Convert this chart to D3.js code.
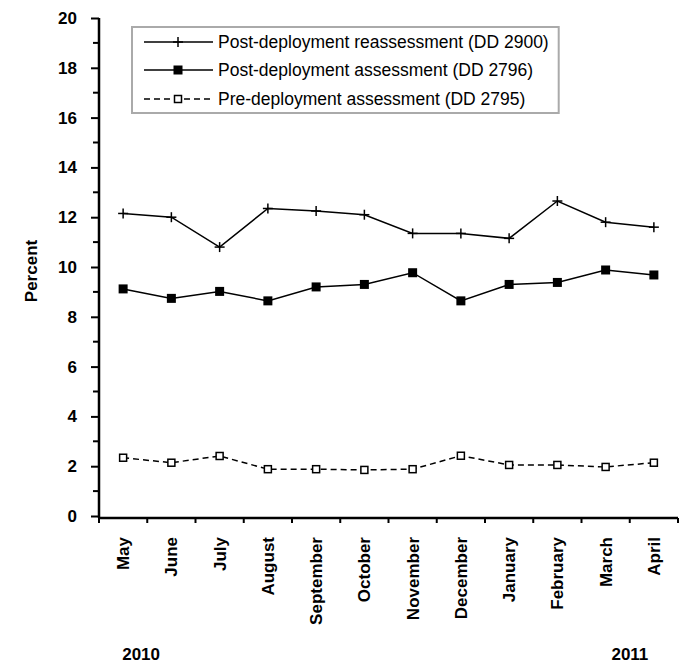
<!DOCTYPE html>
<html>
<head>
<meta charset="utf-8">
<script src="https://cdn.jsdelivr.net/npm/d3@7"></script>
<style>
body{margin:0;background:#fff;}
svg{display:block;font-family:"Liberation Sans",Arial,sans-serif;}
</style>
</head>
<body>
<script>
// data
const months=["May","June","July","August","September","October","November","December","January","February","March","April"];
const reassess=[12.15,12.0,10.8,12.35,12.25,12.1,11.35,11.35,11.15,12.65,11.8,11.6];
const assess=[9.12,8.74,9.02,8.64,9.2,9.3,9.77,8.64,9.3,9.38,9.88,9.68];
const predeploy=[2.34,2.14,2.41,1.88,1.88,1.85,1.88,2.42,2.05,2.05,1.97,2.14];
const seriesNames=["Post-deployment reassessment (DD 2900)","Post-deployment assessment (DD 2796)","Pre-deployment assessment (DD 2795)"];
const yearLabels=["2010","2011"];

//constants
const w=686;
const h=665;
const plotL=99,plotR=678,plotT=18,plotB=516;

const svg=d3.select("body")
            .append("svg")
            .attr("width",w)
            .attr("height",h)

const x=d3.scaleBand().domain(months).range([plotL,plotR]).padding(0)
const y=d3.scaleLinear().domain([0,20]).range([plotB,plotT])

// y axis
const yAxis=d3.axisLeft(y).tickValues(d3.range(0,21,2)).tickSize(8).tickPadding(14).tickFormat(d3.format("d"))
const gy=svg.append("g").attr("transform","translate("+plotL+",0)").call(yAxis)
gy.select(".domain").remove()
gy.selectAll("text").attr("font-size",17).attr("font-weight","bold").attr("font-family","Liberation Sans, Arial")
gy.selectAll(".tick line").attr("stroke","#000").attr("stroke-width",2)
// minor ticks
svg.append("g").selectAll("line")
   .data(d3.range(1,20,2))
   .enter()
   .append("line")
   .attr("x1",plotL-6).attr("x2",plotL)
   .attr("y1",d=>y(d)).attr("y2",d=>y(d))
   .attr("stroke","#000").attr("stroke-width",2)

// x axis ticks on band edges
svg.append("g").selectAll("line")
   .data(months.concat(["end"]))
   .enter()
   .append("line")
   .attr("x1",(d,i)=>plotL+i*x.bandwidth()).attr("x2",(d,i)=>plotL+i*x.bandwidth())
   .attr("y1",plotB+2).attr("y2",plotB+7)
   .attr("stroke","#000").attr("stroke-width",2)

// axis lines
svg.append("line").attr("x1",plotL).attr("x2",plotL).attr("y1",plotT).attr("y2",plotB+2).attr("stroke","#000").attr("stroke-width",2.5)
svg.append("line").attr("x1",plotL-1).attr("x2",plotR).attr("y1",plotB+2).attr("y2",plotB+2).attr("stroke","#000").attr("stroke-width",2.5)

// month labels
svg.append("g").selectAll("text")
   .data(months)
   .enter()
   .append("text")
   .attr("transform",d=>"translate("+(x(d)+x.bandwidth()/2)+",537) rotate(-90)")
   .attr("text-anchor","end")
   .attr("dy","0.35em")
   .attr("font-size",17)
   .attr("font-weight","bold")
   .text(d=>d)

// y label
svg.append("text")
   .attr("transform","translate(31,271) rotate(-90)")
   .attr("text-anchor","middle")
   .attr("dy","0.35em")
   .attr("font-size",17)
   .attr("font-weight","bold")
   .text("Percent")

// years
svg.append("text").attr("x",x(months[0])+x.bandwidth()/2+18).attr("y",660).attr("text-anchor","middle")
   .attr("font-size",17).attr("font-weight","bold").text(yearLabels[0])
svg.append("text").attr("x",x(months[11])+x.bandwidth()/2-24).attr("y",660).attr("text-anchor","middle")
   .attr("font-size",17).attr("font-weight","bold").text(yearLabels[1])

// lines
const line=d3.line().x((d,i)=>x(months[i])+x.bandwidth()/2).y(d=>y(d))
const styles=[
  {data:reassess,dash:null,marker:"cross"},
  {data:assess,dash:null,marker:"filled"},
  {data:predeploy,dash:"6,4",marker:"open"}
]

function drawMarker(g,kind){
  if(kind==="cross"){
    g.append("line").attr("x1",-5).attr("x2",5).attr("y1",0).attr("y2",0).attr("stroke","#000").attr("stroke-width",1.5)
    g.append("line").attr("x1",0).attr("x2",0).attr("y1",-5).attr("y2",5).attr("stroke","#000").attr("stroke-width",1.5)
  }else if(kind==="filled"){
    g.append("rect").attr("x",-4.5).attr("y",-4.5).attr("width",9).attr("height",9).attr("fill","#000")
  }else{
    g.append("rect").attr("x",-3.5).attr("y",-3.5).attr("width",7).attr("height",7).attr("fill","#fff").attr("stroke","#000").attr("stroke-width",1.5)
  }
}

styles.forEach(s=>{
  svg.append("path")
     .attr("d",line(s.data))
     .attr("fill","none")
     .attr("stroke","#000")
     .attr("stroke-width",1.5)
     .attr("stroke-dasharray",s.dash)
  svg.append("g").selectAll("g")
     .data(s.data)
     .enter()
     .append("g")
     .attr("transform",(d,i)=>"translate("+(x(months[i])+x.bandwidth()/2)+","+y(d)+")")
     .each(function(){drawMarker(d3.select(this),s.marker)})
})

// legend
const legend=svg.append("g").attr("id","legend")
const box=legend.append("rect")
   .attr("x",132).attr("y",27).attr("height",86)
   .attr("fill","#fff").attr("stroke","#aaa").attr("stroke-width",2)
const rowsY=[42,70,99]
let maxEnd=0
styles.forEach((s,i)=>{
  legend.append("line").attr("x1",144).attr("x2",213).attr("y1",rowsY[i]).attr("y2",rowsY[i])
     .attr("stroke","#000").attr("stroke-width",1.5).attr("stroke-dasharray",s.dash)
  drawMarker(legend.append("g").attr("transform","translate(178,"+rowsY[i]+")"),s.marker)
  const t=legend.append("text").attr("x",218).attr("y",rowsY[i]).attr("dy","0.35em")
     .attr("font-size",17.5).text(seriesNames[i])
  maxEnd=Math.max(maxEnd,t.node().getBBox().x+t.node().getBBox().width)
})
box.attr("width",maxEnd+10-132)
</script>
</body>
</html>
